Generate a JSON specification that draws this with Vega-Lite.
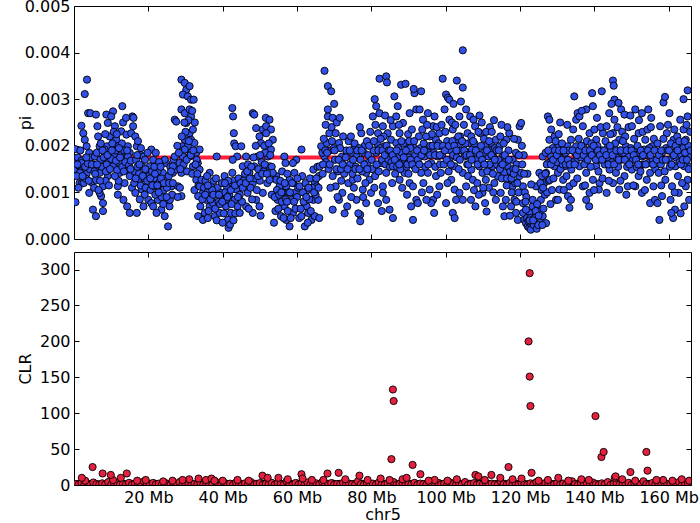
{
"$schema": "https://vega.github.io/schema/vega-lite/v6.json",
"autosize": {"type": "none"},
"padding": {"left": 74, "top": 6, "right": 9, "bottom": 517},
"spacing": 3,
"config": {
 "view": {"stroke": "#000", "strokeWidth": 1},
 "axis": {"labelFont": "DejaVu Sans", "labelFontSize": 16, "labelColor": "#000", "titleFont": "DejaVu Sans", "titleFontSize": 16, "titleFontWeight": "normal", "titleColor": "#000", "tickColor": "#000", "tickSize": -5, "tickWidth": 1, "domain": false, "grid": false, "labelPadding": 9}
},
"datasets": {
"pi": [
{"x":0.3,"p":0.00193},{"x":0.5,"p":0.00163},{"x":0.8,"p":0.00142},{"x":0.4,"p":0.00079},{"x":1.5,"p":0.0012},{"x":0.2,"p":0.0015},{"x":1.0,"p":0.00175},{"x":1.2,"p":0.00158},{"x":1.8,"p":0.00145},{"x":2.0,"p":0.00168},{"x":2.2,"p":0.0012},{"x":2.5,"p":0.00142},
{"x":3.5,"p":0.00342},{"x":2.9,"p":0.00311},{"x":3.8,"p":0.0027},{"x":4.4,"p":0.0027},{"x":2.0,"p":0.00243},{"x":2.5,"p":0.00227},{"x":2.9,"p":0.00213},{"x":3.4,"p":0.00199},{"x":4.1,"p":0.00185},{"x":2.0,"p":0.00163},{"x":1.6,"p":0.00142},{"x":3.4,"p":0.0014},{"x":4.2,"p":0.0015},{"x":2.6,"p":0.0012},{"x":4.7,"p":0.00122},{"x":4.1,"p":0.00099},{"x":5.1,"p":0.00063},{"x":3.0,"p":0.00155},{"x":3.7,"p":0.00162},{"x":4.5,"p":0.00175},{"x":3.1,"p":0.0013},{"x":1.2,"p":0.0011},{"x":0.7,"p":0.00135},
{"x":5.9,"p":0.00267},{"x":6.3,"p":0.00242},{"x":6.5,"p":0.0022},{"x":6.9,"p":0.00199},{"x":5.6,"p":0.00177},{"x":6.5,"p":0.00156},{"x":5.9,"p":0.00127},{"x":6.9,"p":0.00142},{"x":7.8,"p":0.00113},{"x":7.3,"p":0.00092},{"x":7.8,"p":0.00077},{"x":7.8,"p":0.0006},{"x":5.9,"p":0.00049},{"x":6.9,"p":0.00099},{"x":8.7,"p":0.00267},{"x":9.1,"p":0.00249},{"x":9.6,"p":0.0022},{"x":8.9,"p":0.00199},{"x":8.2,"p":0.00152},{"x":9.1,"p":0.00135},{"x":8.2,"p":0.00192},{"x":5.3,"p":0.0016},{"x":5.5,"p":0.00145},{"x":6.1,"p":0.00185},{"x":7.1,"p":0.0017},{"x":7.5,"p":0.00155},{"x":8.0,"p":0.00175},{"x":8.5,"p":0.00125},{"x":9.3,"p":0.00165},{"x":9.8,"p":0.0018},{"x":7.2,"p":0.00205},{"x":8.4,"p":0.00225},{"x":9.4,"p":0.00115},{"x":5.4,"p":0.0011},{"x":6.6,"p":0.00105},{"x":8.8,"p":0.0016},
{"x":10.5,"p":0.00274},{"x":10.0,"p":0.00263},{"x":11.0,"p":0.00242},{"x":11.4,"p":0.00213},{"x":11.8,"p":0.00199},{"x":10.9,"p":0.00177},{"x":12.3,"p":0.00163},{"x":12.7,"p":0.00231},{"x":13.0,"p":0.00285},{"x":13.2,"p":0.0025},{"x":14.1,"p":0.00224},{"x":14.5,"p":0.00199},{"x":15.0,"p":0.00185},{"x":15.4,"p":0.00227},{"x":11.8,"p":0.00095},{"x":12.3,"p":0.00142},{"x":13.6,"p":0.0012},{"x":14.1,"p":0.00149},{"x":14.5,"p":0.00177},{"x":13.3,"p":0.00084},{"x":15.0,"p":0.00135},{"x":14.3,"p":0.0007},{"x":15.0,"p":0.00056},{"x":15.7,"p":0.00263},{"x":15.9,"p":0.00242},{"x":11.8,"p":0.00113},{"x":10.5,"p":0.00156},{"x":10.0,"p":0.00172},{"x":10.3,"p":0.00205},{"x":11.2,"p":0.0019},{"x":11.6,"p":0.00148},{"x":12.0,"p":0.00125},{"x":12.6,"p":0.0018},{"x":13.0,"p":0.00155},{"x":13.5,"p":0.0019},{"x":13.8,"p":0.00165},{"x":14.8,"p":0.00158},{"x":15.3,"p":0.00168},{"x":15.6,"p":0.0011},{"x":12.9,"p":0.00205},{"x":10.7,"p":0.0023},{"x":14.0,"p":0.0026},{"x":11.3,"p":0.00168},{"x":12.1,"p":0.00195},
{"x":16.0,"p":0.0026},{"x":16.5,"p":0.0022},{"x":16.9,"p":0.00199},{"x":17.8,"p":0.00181},{"x":18.3,"p":0.00156},{"x":18.7,"p":0.00177},{"x":17.4,"p":0.00127},{"x":16.5,"p":0.00099},{"x":18.3,"p":0.00106},{"x":19.5,"p":0.00142},{"x":19.1,"p":0.0017},{"x":20.0,"p":0.00117},{"x":20.4,"p":0.00156},{"x":16.9,"p":0.00056},{"x":18.7,"p":0.0007},{"x":20.0,"p":0.00084},{"x":20.8,"p":0.00077},{"x":20.8,"p":0.00192},{"x":16.3,"p":0.00145},{"x":16.7,"p":0.0017},{"x":17.1,"p":0.00155},{"x":17.5,"p":0.0014},{"x":17.9,"p":0.00115},{"x":18.0,"p":0.00195},{"x":18.9,"p":0.0013},{"x":19.3,"p":0.0011},{"x":19.8,"p":0.00185},{"x":20.2,"p":0.00135},{"x":17.2,"p":0.0021},{"x":16.2,"p":0.0012},{"x":19.0,"p":0.00095},{"x":17.7,"p":0.00085},{"x":20.6,"p":0.00105},
{"x":21.3,"p":0.0017},{"x":22.2,"p":0.00156},{"x":23.0,"p":0.00127},{"x":21.7,"p":0.00113},{"x":23.9,"p":0.00142},{"x":24.8,"p":0.00163},{"x":22.6,"p":0.00084},{"x":23.5,"p":0.00063},{"x":24.4,"p":0.00049},{"x":25.3,"p":0.00027},{"x":25.7,"p":0.0007},{"x":26.2,"p":0.00113},{"x":26.6,"p":0.00142},{"x":22.2,"p":0.00056},{"x":21.3,"p":0.0007},{"x":24.4,"p":0.0017},{"x":25.3,"p":0.00084},{"x":25.8,"p":0.00084},{"x":21.0,"p":0.00145},{"x":21.5,"p":0.0013},{"x":21.9,"p":0.00095},{"x":22.5,"p":0.00145},{"x":22.9,"p":0.00165},{"x":23.2,"p":0.00105},{"x":23.6,"p":0.0009},{"x":23.8,"p":0.0012},{"x":24.1,"p":0.00105},{"x":24.6,"p":0.00125},{"x":25.0,"p":0.0011},{"x":25.5,"p":0.00135},{"x":25.9,"p":0.00155},{"x":26.4,"p":0.00095},{"x":22.0,"p":0.00185},{"x":24.0,"p":0.00075},{"x":26.8,"p":0.0017},{"x":21.6,"p":0.00155},{"x":23.3,"p":0.00155},
{"x":27.1,"p":0.00256},{"x":27.5,"p":0.00252},{"x":28.4,"p":0.00163},{"x":28.9,"p":0.00142},{"x":28.0,"p":0.00113},{"x":28.9,"p":0.00092},{"x":29.3,"p":0.00177},{"x":29.8,"p":0.00213},{"x":30.0,"p":0.00192},{"x":29.1,"p":0.00199},{"x":27.5,"p":0.00149},{"x":26.6,"p":0.00156},{"x":27.1,"p":0.00177},{"x":28.9,"p":0.00342},{"x":29.8,"p":0.00335},{"x":30.2,"p":0.0032},{"x":31.1,"p":0.00328},{"x":29.3,"p":0.0031},{"x":30.6,"p":0.00306},{"x":31.5,"p":0.00299},{"x":32.2,"p":0.00299},{"x":28.9,"p":0.00278},{"x":29.8,"p":0.0027},{"x":31.1,"p":0.00278},{"x":31.5,"p":0.00263},{"x":30.2,"p":0.00249},{"x":31.1,"p":0.00227},{"x":32.0,"p":0.00235},{"x":31.5,"p":0.00213},{"x":30.6,"p":0.00199},{"x":32.4,"p":0.00206},{"x":29.8,"p":0.00192},{"x":31.1,"p":0.00177},{"x":32.9,"p":0.00185},{"x":32.0,"p":0.00156},{"x":33.8,"p":0.00192},{"x":33.3,"p":0.00163},{"x":33.8,"p":0.00149},{"x":32.9,"p":0.00127},{"x":30.0,"p":0.0023},{"x":30.8,"p":0.00255},{"x":31.8,"p":0.00275},{"x":32.5,"p":0.0025},{"x":28.2,"p":0.00185},{"x":27.8,"p":0.002},{"x":29.5,"p":0.0016},{"x":30.4,"p":0.00145},{"x":31.8,"p":0.0014},{"x":33.0,"p":0.0017},{"x":27.9,"p":0.0009},{"x":28.5,"p":0.0011},{"x":32.4,"p":0.00105},{"x":33.5,"p":0.00115},
{"x":33.8,"p":0.00113},{"x":34.7,"p":0.00099},{"x":33.4,"p":0.00092},{"x":35.6,"p":0.00084},{"x":36.5,"p":0.0007},{"x":35.2,"p":0.00056},{"x":37.4,"p":0.00077},{"x":37.9,"p":0.00049},{"x":34.3,"p":0.00127},{"x":36.5,"p":0.00142},{"x":38.3,"p":0.00099},{"x":39.2,"p":0.00056},{"x":33.4,"p":0.00049},{"x":34.7,"p":0.00041},{"x":35.0,"p":0.0011},{"x":35.4,"p":0.00125},{"x":35.9,"p":0.001},{"x":36.2,"p":0.0006},{"x":36.8,"p":0.00115},{"x":37.1,"p":0.0009},{"x":37.6,"p":0.00125},{"x":38.0,"p":0.00065},{"x":38.6,"p":0.0011},{"x":38.9,"p":0.0008},{"x":34.0,"p":0.0007},{"x":35.8,"p":0.00135},{"x":37.2,"p":0.00105},{"x":36.0,"p":0.00045},{"x":38.4,"p":0.0004},{"x":38.4,"p":0.00177},
{"x":39.6,"p":0.00099},{"x":40.1,"p":0.00084},{"x":40.9,"p":0.0007},{"x":41.4,"p":0.00041},{"x":41.6,"p":0.00024},{"x":42.0,"p":0.00031},{"x":42.2,"p":0.00056},{"x":43.2,"p":0.00084},{"x":42.0,"p":0.0012},{"x":40.5,"p":0.00135},{"x":41.2,"p":0.0011},{"x":42.6,"p":0.00142},{"x":43.7,"p":0.00106},{"x":44.0,"p":0.0007},{"x":42.6,"p":0.00281},{"x":42.8,"p":0.00263},{"x":43.0,"p":0.00227},{"x":43.1,"p":0.00205},{"x":43.5,"p":0.00199},{"x":43.9,"p":0.00177},{"x":42.7,"p":0.0017},{"x":39.8,"p":0.0012},{"x":40.3,"p":0.00055},{"x":40.7,"p":0.001},{"x":41.0,"p":0.00085},{"x":41.8,"p":0.00095},{"x":42.4,"p":0.00075},{"x":43.0,"p":0.00125},{"x":43.4,"p":0.00055},{"x":44.3,"p":0.0013},{"x":44.6,"p":0.00095},{"x":39.3,"p":0.00075},{"x":41.5,"p":0.00125},{"x":40.0,"p":0.00035},{"x":42.9,"p":0.0004},
{"x":45.0,"p":0.00199},{"x":46.3,"p":0.00177},{"x":45.4,"p":0.00156},{"x":47.2,"p":0.00142},{"x":48.1,"p":0.0012},{"x":45.8,"p":0.00113},{"x":46.7,"p":0.00099},{"x":49.0,"p":0.00084},{"x":46.3,"p":0.0007},{"x":44.6,"p":0.00056},{"x":48.1,"p":0.00056},{"x":49.9,"p":0.0007},{"x":50.8,"p":0.00099},{"x":48.5,"p":0.00156},{"x":49.4,"p":0.00177},{"x":50.3,"p":0.00206},{"x":49.0,"p":0.00238},{"x":50.8,"p":0.00235},{"x":49.9,"p":0.0022},{"x":51.7,"p":0.00242},{"x":51.2,"p":0.002},{"x":48.1,"p":0.0027},{"x":48.5,"p":0.00267},{"x":51.6,"p":0.0026},{"x":52.6,"p":0.00256},{"x":53.0,"p":0.00235},{"x":51.7,"p":0.00227},{"x":53.5,"p":0.00213},{"x":53.0,"p":0.00192},{"x":52.2,"p":0.00177},{"x":54.4,"p":0.00135},{"x":52.6,"p":0.00156},{"x":45.6,"p":0.00125},{"x":46.0,"p":0.0014},{"x":46.8,"p":0.0016},{"x":47.5,"p":0.0011},{"x":47.9,"p":0.00085},{"x":48.8,"p":0.0013},{"x":49.2,"p":0.00105},{"x":49.6,"p":0.0015},{"x":50.0,"p":0.00125},{"x":50.5,"p":0.00165},{"x":51.0,"p":0.00145},{"x":51.4,"p":0.00185},{"x":52.0,"p":0.0012},{"x":52.4,"p":0.00205},{"x":53.2,"p":0.00155},{"x":47.0,"p":0.00065},{"x":50.2,"p":0.0005},{"x":45.2,"p":0.0008},
{"x":53.5,"p":0.00142},{"x":54.4,"p":0.00127},{"x":52.6,"p":0.00127},{"x":55.3,"p":0.00113},{"x":56.2,"p":0.00099},{"x":54.8,"p":0.00084},{"x":56.6,"p":0.0007},{"x":55.7,"p":0.00049},{"x":57.1,"p":0.00041},{"x":58.0,"p":0.00027},{"x":58.9,"p":0.00056},{"x":58.5,"p":0.00084},{"x":59.4,"p":0.00099},{"x":57.1,"p":0.00113},{"x":58.0,"p":0.00127},{"x":59.3,"p":0.00142},{"x":59.8,"p":0.0017},{"x":58.9,"p":0.00163},{"x":56.6,"p":0.00177},{"x":56.9,"p":0.00163},{"x":53.8,"p":0.00035},{"x":54.2,"p":0.0006},{"x":54.6,"p":0.00105},{"x":55.0,"p":0.00065},{"x":55.5,"p":0.00125},{"x":55.9,"p":0.0008},{"x":56.4,"p":0.00045},{"x":57.0,"p":0.00085},{"x":57.5,"p":0.0006},{"x":57.7,"p":0.001},{"x":58.3,"p":0.00045},{"x":59.0,"p":0.0012},{"x":59.6,"p":0.00065},{"x":60.0,"p":0.0009},{"x":60.3,"p":0.0011},{"x":60.6,"p":0.00045},{"x":53.2,"p":0.00095},{"x":56.0,"p":0.00145},{"x":57.4,"p":0.0014},
{"x":61.2,"p":0.00192},{"x":61.4,"p":0.00135},{"x":60.7,"p":0.00113},{"x":62.1,"p":0.00099},{"x":62.6,"p":0.0007},{"x":61.2,"p":0.00049},{"x":63.0,"p":0.00056},{"x":63.9,"p":0.00041},{"x":64.4,"p":0.00084},{"x":64.8,"p":0.0012},{"x":64.4,"p":0.00149},{"x":65.3,"p":0.00113},{"x":65.7,"p":0.00084},{"x":64.8,"p":0.00049},{"x":62.1,"p":0.00027},{"x":61.8,"p":0.0008},{"x":62.3,"p":0.0012},{"x":62.8,"p":0.00105},{"x":63.3,"p":0.00085},{"x":63.5,"p":0.0013},{"x":63.7,"p":0.0006},{"x":64.1,"p":0.0011},{"x":65.0,"p":0.00095},{"x":65.5,"p":0.00155},{"x":65.9,"p":0.00135},{"x":66.0,"p":0.00045},{"x":61.0,"p":0.00065},{"x":62.9,"p":0.00035},
{"x":66.5,"p":0.00199},{"x":67.4,"p":0.00177},{"x":66.1,"p":0.00156},{"x":68.0,"p":0.00206},{"x":68.7,"p":0.00227},{"x":68.3,"p":0.00263},{"x":67.4,"p":0.00361},{"x":68.3,"p":0.00328},{"x":69.2,"p":0.00317},{"x":68.3,"p":0.00278},{"x":69.6,"p":0.0026},{"x":70.4,"p":0.00227},{"x":71.3,"p":0.00206},{"x":72.1,"p":0.00177},{"x":73.0,"p":0.00156},{"x":69.6,"p":0.00135},{"x":70.4,"p":0.00113},{"x":71.3,"p":0.00084},{"x":69.6,"p":0.00063},{"x":72.2,"p":0.00099},{"x":73.5,"p":0.0007},{"x":66.8,"p":0.00185},{"x":67.2,"p":0.00215},{"x":67.8,"p":0.00165},{"x":68.9,"p":0.0019},{"x":69.3,"p":0.0024},{"x":69.9,"p":0.00195},{"x":70.2,"p":0.0017},{"x":70.7,"p":0.0025},{"x":71.0,"p":0.00145},{"x":71.6,"p":0.00195},{"x":71.9,"p":0.00125},{"x":72.4,"p":0.0022},{"x":72.7,"p":0.0014},{"x":73.3,"p":0.0019},{"x":73.8,"p":0.0012},{"x":66.9,"p":0.0014},{"x":67.7,"p":0.00245},{"x":68.5,"p":0.0015},{"x":69.0,"p":0.0011},{"x":70.9,"p":0.0009},{"x":72.8,"p":0.00055},{"x":73.9,"p":0.0021},{"x":70.0,"p":0.0029},{"x":71.5,"p":0.0026},
{"x":74.5,"p":0.0022},{"x":75.5,"p":0.002},{"x":74.8,"p":0.00185},{"x":77.0,"p":0.00038},{"x":77.0,"p":0.00052},{"x":76.0,"p":0.00084},{"x":77.7,"p":0.00106},{"x":75.0,"p":0.00127},{"x":78.6,"p":0.00142},{"x":79.0,"p":0.00163},{"x":78.2,"p":0.002},{"x":77.3,"p":0.00227},{"x":75.5,"p":0.00205},{"x":76.0,"p":0.00177},{"x":79.5,"p":0.00127},{"x":79.9,"p":0.00099},{"x":78.6,"p":0.00077},{"x":74.3,"p":0.0016},{"x":74.9,"p":0.0014},{"x":75.3,"p":0.0011},{"x":75.8,"p":0.00155},{"x":76.3,"p":0.0013},{"x":76.7,"p":0.00195},{"x":77.1,"p":0.0017},{"x":77.5,"p":0.00145},{"x":77.8,"p":0.0009},{"x":78.0,"p":0.00185},{"x":78.4,"p":0.0012},{"x":78.8,"p":0.0021},{"x":79.2,"p":0.0018},{"x":79.7,"p":0.0023},{"x":76.5,"p":0.00055},{"x":74.6,"p":0.0009},{"x":76.9,"p":0.0024},
{"x":80.9,"p":0.003},{"x":81.3,"p":0.00285},{"x":80.4,"p":0.00263},{"x":82.2,"p":0.00344},{"x":84.0,"p":0.00349},{"x":84.2,"p":0.00336},{"x":81.8,"p":0.00077},{"x":84.9,"p":0.00063},{"x":85.8,"p":0.00045},{"x":83.1,"p":0.00113},{"x":84.0,"p":0.00142},{"x":82.6,"p":0.00163},{"x":81.3,"p":0.00185},{"x":84.9,"p":0.00185},{"x":85.3,"p":0.00213},{"x":84.4,"p":0.00227},{"x":83.1,"p":0.00242},{"x":82.2,"p":0.0027},{"x":85.8,"p":0.00242},{"x":83.5,"p":0.00199},{"x":81.8,"p":0.00227},{"x":85.6,"p":0.0012},{"x":84.0,"p":0.00084},{"x":83.1,"p":0.00099},{"x":80.2,"p":0.0015},{"x":80.6,"p":0.0019},{"x":81.0,"p":0.00135},{"x":81.6,"p":0.00205},{"x":82.0,"p":0.00145},{"x":82.4,"p":0.00195},{"x":82.9,"p":0.0017},{"x":83.3,"p":0.0022},{"x":83.8,"p":0.0016},{"x":84.6,"p":0.0017},{"x":85.0,"p":0.00155},{"x":85.4,"p":0.00165},{"x":80.8,"p":0.0011},{"x":82.8,"p":0.0006},{"x":85.2,"p":0.00255},{"x":83.7,"p":0.00265},{"x":81.1,"p":0.00245},
{"x":86.2,"p":0.00306},{"x":87.1,"p":0.00285},{"x":88.0,"p":0.00331},{"x":89.2,"p":0.00333},{"x":86.7,"p":0.00263},{"x":88.5,"p":0.00249},{"x":87.6,"p":0.00227},{"x":89.4,"p":0.00206},{"x":89.8,"p":0.00185},{"x":88.0,"p":0.00163},{"x":88.9,"p":0.00142},{"x":90.3,"p":0.0012},{"x":91.2,"p":0.00113},{"x":90.7,"p":0.0007},{"x":91.2,"p":0.00041},{"x":91.6,"p":0.00313},{"x":91.4,"p":0.00322},{"x":92.1,"p":0.00278},{"x":90.3,"p":0.0027},{"x":86.7,"p":0.00206},{"x":87.1,"p":0.00177},{"x":85.8,"p":0.00156},{"x":87.6,"p":0.00127},{"x":92.1,"p":0.00084},{"x":92.5,"p":0.00077},{"x":91.6,"p":0.00156},{"x":91.2,"p":0.00199},{"x":86.4,"p":0.0014},{"x":86.9,"p":0.00155},{"x":87.3,"p":0.00195},{"x":87.8,"p":0.0015},{"x":88.2,"p":0.00185},{"x":88.6,"p":0.00205},{"x":89.0,"p":0.0017},{"x":89.5,"p":0.00155},{"x":89.9,"p":0.00225},{"x":90.1,"p":0.00175},{"x":90.5,"p":0.00195},{"x":90.9,"p":0.00235},{"x":91.8,"p":0.0018},{"x":88.3,"p":0.0011},{"x":89.6,"p":0.00095},{"x":87.4,"p":0.00245},{"x":90.0,"p":0.0014},{"x":86.0,"p":0.00185},
{"x":93.4,"p":0.00317},{"x":93.0,"p":0.00278},{"x":93.9,"p":0.00256},{"x":95.2,"p":0.0027},{"x":96.6,"p":0.00242},{"x":95.7,"p":0.0022},{"x":94.8,"p":0.00199},{"x":94.3,"p":0.00177},{"x":97.0,"p":0.00263},{"x":97.4,"p":0.00213},{"x":98.3,"p":0.00227},{"x":98.7,"p":0.00199},{"x":97.9,"p":0.00177},{"x":96.1,"p":0.00163},{"x":95.2,"p":0.00142},{"x":95.7,"p":0.00106},{"x":96.6,"p":0.00084},{"x":96.1,"p":0.00077},{"x":93.4,"p":0.00142},{"x":92.5,"p":0.0017},{"x":99.2,"p":0.00344},{"x":97.4,"p":0.00135},{"x":98.3,"p":0.00113},{"x":98.7,"p":0.00142},{"x":94.8,"p":0.00084},{"x":96.9,"p":0.00056},{"x":92.8,"p":0.0022},{"x":93.2,"p":0.00195},{"x":93.7,"p":0.00235},{"x":94.1,"p":0.00205},{"x":94.5,"p":0.00155},{"x":95.0,"p":0.00245},{"x":95.4,"p":0.00185},{"x":95.9,"p":0.002},{"x":96.3,"p":0.00225},{"x":96.8,"p":0.00185},{"x":97.2,"p":0.00155},{"x":97.6,"p":0.0024},{"x":98.1,"p":0.00205},{"x":98.5,"p":0.0016},{"x":98.9,"p":0.00245},{"x":99.0,"p":0.0018},{"x":94.0,"p":0.0012},{"x":97.7,"p":0.00095},{"x":93.6,"p":0.001},
{"x":100.1,"p":0.0031},{"x":100.6,"p":0.00303},{"x":101.0,"p":0.00299},{"x":103.0,"p":0.0034},{"x":104.6,"p":0.00325},{"x":104.6,"p":0.00405},{"x":99.7,"p":0.00278},{"x":101.0,"p":0.00256},{"x":101.9,"p":0.00235},{"x":102.8,"p":0.00213},{"x":103.7,"p":0.00263},{"x":105.5,"p":0.00278},{"x":100.1,"p":0.00192},{"x":101.0,"p":0.0017},{"x":102.4,"p":0.00156},{"x":103.3,"p":0.00199},{"x":101.5,"p":0.00127},{"x":102.4,"p":0.00106},{"x":102.8,"p":0.00084},{"x":101.9,"p":0.00056},{"x":102.4,"p":0.00045},{"x":100.1,"p":0.00077},{"x":104.6,"p":0.00142},{"x":105.1,"p":0.00177},{"x":105.9,"p":0.00227},{"x":106.4,"p":0.00206},{"x":105.5,"p":0.00113},{"x":103.7,"p":0.00099},{"x":104.6,"p":0.00084},{"x":99.5,"p":0.0016},{"x":99.9,"p":0.0023},{"x":100.4,"p":0.0021},{"x":100.8,"p":0.00145},{"x":101.3,"p":0.0019},{"x":101.7,"p":0.0025},{"x":102.0,"p":0.0018},{"x":102.6,"p":0.00245},{"x":103.0,"p":0.00175},{"x":103.5,"p":0.0015},{"x":103.9,"p":0.0022},{"x":104.2,"p":0.0019},{"x":104.9,"p":0.00245},{"x":105.3,"p":0.00205},{"x":105.8,"p":0.0016},{"x":106.2,"p":0.00185},{"x":104.1,"p":0.00295},{"x":100.5,"p":0.0012},{"x":102.1,"p":0.0029},{"x":106.0,"p":0.00135},
{"x":106.6,"p":0.00263},{"x":107.5,"p":0.00256},{"x":107.9,"p":0.00242},{"x":109.3,"p":0.00227},{"x":110.6,"p":0.00199},{"x":111.5,"p":0.00177},{"x":107.1,"p":0.00192},{"x":108.0,"p":0.0017},{"x":109.0,"p":0.00156},{"x":109.9,"p":0.00142},{"x":110.8,"p":0.00127},{"x":112.6,"p":0.00156},{"x":112.2,"p":0.00206},{"x":113.5,"p":0.00213},{"x":106.8,"p":0.00084},{"x":108.0,"p":0.0007},{"x":110.6,"p":0.00077},{"x":111.0,"p":0.00059},{"x":109.9,"p":0.00099},{"x":106.9,"p":0.00149},{"x":113.1,"p":0.0012},{"x":113.5,"p":0.00084},{"x":107.3,"p":0.00127},{"x":108.5,"p":0.0012},{"x":109.5,"p":0.002},{"x":110.2,"p":0.00185},{"x":111.9,"p":0.0024},{"x":106.9,"p":0.0022},{"x":107.7,"p":0.00205},{"x":108.3,"p":0.00185},{"x":108.8,"p":0.0023},{"x":109.7,"p":0.0025},{"x":110.3,"p":0.00215},{"x":110.9,"p":0.0023},{"x":111.2,"p":0.00145},{"x":111.8,"p":0.0016},{"x":112.0,"p":0.0019},{"x":112.4,"p":0.0023},{"x":112.9,"p":0.00175},{"x":113.3,"p":0.00195},{"x":113.8,"p":0.0016},{"x":108.9,"p":0.00095},{"x":111.6,"p":0.0011},{"x":112.8,"p":0.001},{"x":107.6,"p":0.00105},{"x":110.1,"p":0.0011},{"x":113.0,"p":0.00255},{"x":109.1,"p":0.00265},
{"x":114.5,"p":0.00199},{"x":115.4,"p":0.00177},{"x":116.7,"p":0.00156},{"x":115.8,"p":0.00142},{"x":117.1,"p":0.00127},{"x":118.0,"p":0.00113},{"x":114.8,"p":0.00099},{"x":116.2,"p":0.00084},{"x":115.4,"p":0.0007},{"x":115.8,"p":0.00049},{"x":118.5,"p":0.00084},{"x":117.6,"p":0.0007},{"x":118.9,"p":0.00056},{"x":119.4,"p":0.00041},{"x":119.9,"p":0.00242},{"x":120.3,"p":0.00249},{"x":119.4,"p":0.00213},{"x":118.9,"p":0.00185},{"x":118.0,"p":0.0017},{"x":117.1,"p":0.00227},{"x":114.9,"p":0.00156},{"x":114.0,"p":0.00135},{"x":116.3,"p":0.00213},{"x":114.2,"p":0.0017},{"x":114.7,"p":0.0022},{"x":115.1,"p":0.0013},{"x":115.6,"p":0.00205},{"x":116.0,"p":0.00165},{"x":116.4,"p":0.00115},{"x":116.9,"p":0.0019},{"x":117.4,"p":0.00145},{"x":117.8,"p":0.001},{"x":118.2,"p":0.0015},{"x":118.7,"p":0.0012},{"x":119.1,"p":0.0016},{"x":119.6,"p":0.001},{"x":119.8,"p":0.00135},{"x":117.3,"p":0.0005},{"x":116.6,"p":0.0024},{"x":118.4,"p":0.00215},{"x":119.0,"p":0.0008},{"x":115.0,"p":0.00245},
{"x":120.8,"p":0.00056},{"x":121.2,"p":0.00041},{"x":121.6,"p":0.00034},{"x":122.1,"p":0.00027},{"x":122.5,"p":0.00024},{"x":123.0,"p":0.00031},{"x":123.9,"p":0.00024},{"x":124.3,"p":0.00034},{"x":125.2,"p":0.00041},{"x":126.1,"p":0.00049},{"x":127.0,"p":0.00034},{"x":123.4,"p":0.00049},{"x":124.8,"p":0.00056},{"x":122.5,"p":0.00056},{"x":120.8,"p":0.00077},{"x":123.4,"p":0.0007},{"x":125.6,"p":0.00084},{"x":126.5,"p":0.0012},{"x":127.0,"p":0.00142},{"x":127.5,"p":0.00163},{"x":124.3,"p":0.00113},{"x":125.2,"p":0.00142},{"x":126.1,"p":0.00177},{"x":127.9,"p":0.00213},{"x":127.5,"p":0.00263},{"x":127.9,"p":0.00256},{"x":123.0,"p":0.00117},{"x":123.4,"p":0.00084},{"x":121.6,"p":0.00063},{"x":120.8,"p":0.00113},{"x":120.3,"p":0.00142},{"x":121.0,"p":0.0018},{"x":120.5,"p":0.002},{"x":121.3,"p":0.001},{"x":121.9,"p":0.00045},{"x":122.3,"p":0.00038},{"x":122.8,"p":0.00045},{"x":122.9,"p":0.0002},{"x":123.2,"p":0.0004},{"x":123.7,"p":0.0003},{"x":124.0,"p":0.00045},{"x":124.5,"p":0.00022},{"x":124.9,"p":0.0003},{"x":125.4,"p":0.0006},{"x":125.8,"p":0.00105},{"x":126.3,"p":0.00065},{"x":126.7,"p":0.00095},{"x":127.3,"p":0.001},{"x":127.7,"p":0.00125},{"x":124.6,"p":0.00075},{"x":125.9,"p":0.00135},{"x":126.9,"p":0.00185},{"x":121.7,"p":0.0009},{"x":126.0,"p":0.0003},{"x":122.0,"p":0.0014},
{"x":128.4,"p":0.00235},{"x":129.3,"p":0.0022},{"x":130.2,"p":0.00199},{"x":131.0,"p":0.00185},{"x":131.9,"p":0.00177},{"x":132.8,"p":0.00199},{"x":133.7,"p":0.00213},{"x":134.6,"p":0.00306},{"x":128.4,"p":0.00177},{"x":129.3,"p":0.00156},{"x":130.2,"p":0.00142},{"x":131.6,"p":0.00127},{"x":133.3,"p":0.00113},{"x":132.9,"p":0.00092},{"x":133.7,"p":0.00084},{"x":133.3,"p":0.00067},{"x":129.7,"p":0.00084},{"x":130.2,"p":0.00084},{"x":132.0,"p":0.00156},{"x":133.8,"p":0.00149},{"x":135.1,"p":0.0017},{"x":128.0,"p":0.00127},{"x":130.6,"p":0.00106},{"x":135.5,"p":0.0027},{"x":135.1,"p":0.00256},{"x":128.8,"p":0.00195},{"x":129.0,"p":0.0013},{"x":129.6,"p":0.0021},{"x":130.0,"p":0.00165},{"x":130.4,"p":0.00225},{"x":130.9,"p":0.0015},{"x":131.3,"p":0.00205},{"x":131.5,"p":0.0016},{"x":132.2,"p":0.00185},{"x":132.5,"p":0.00135},{"x":133.1,"p":0.0019},{"x":134.0,"p":0.00165},{"x":134.3,"p":0.00235},{"x":134.8,"p":0.00185},{"x":128.6,"p":0.00105},{"x":131.8,"p":0.00105},{"x":134.4,"p":0.0012},{"x":132.7,"p":0.00245},{"x":130.8,"p":0.0025},{"x":128.2,"p":0.00075},
{"x":136.0,"p":0.00263},{"x":137.8,"p":0.00278},{"x":139.4,"p":0.00313},{"x":139.6,"p":0.00285},{"x":142.0,"p":0.00317},{"x":136.9,"p":0.00242},{"x":138.7,"p":0.00227},{"x":140.5,"p":0.00213},{"x":135.1,"p":0.00199},{"x":135.6,"p":0.00185},{"x":137.8,"p":0.00177},{"x":139.6,"p":0.00185},{"x":141.4,"p":0.0017},{"x":136.0,"p":0.00156},{"x":137.8,"p":0.00142},{"x":139.6,"p":0.00127},{"x":136.9,"p":0.00113},{"x":141.4,"p":0.0012},{"x":138.7,"p":0.00099},{"x":137.8,"p":0.00084},{"x":138.6,"p":0.0007},{"x":141.2,"p":0.00106},{"x":140.5,"p":0.00156},{"x":142.3,"p":0.00227},{"x":135.8,"p":0.00215},{"x":136.4,"p":0.00175},{"x":137.0,"p":0.002},{"x":137.3,"p":0.0016},{"x":138.0,"p":0.0021},{"x":138.3,"p":0.0019},{"x":139.0,"p":0.00155},{"x":139.2,"p":0.00205},{"x":140.0,"p":0.00235},{"x":140.3,"p":0.00185},{"x":140.8,"p":0.002},{"x":141.1,"p":0.00145},{"x":141.7,"p":0.0024},{"x":142.0,"p":0.0019},{"x":136.6,"p":0.00275},{"x":140.7,"p":0.0026},{"x":142.2,"p":0.0013},{"x":135.4,"p":0.0013},{"x":137.5,"p":0.00115},{"x":139.9,"p":0.00105},
{"x":145.0,"p":0.0034},{"x":145.2,"p":0.00329},{"x":145.4,"p":0.00299},{"x":146.5,"p":0.00292},{"x":144.0,"p":0.0027},{"x":145.4,"p":0.00256},{"x":147.2,"p":0.00278},{"x":148.1,"p":0.00267},{"x":143.3,"p":0.00242},{"x":145.0,"p":0.00227},{"x":146.7,"p":0.00213},{"x":148.5,"p":0.00199},{"x":143.7,"p":0.00199},{"x":145.4,"p":0.00185},{"x":147.2,"p":0.0017},{"x":149.0,"p":0.00177},{"x":144.1,"p":0.00149},{"x":145.8,"p":0.00142},{"x":148.1,"p":0.00135},{"x":145.0,"p":0.0012},{"x":146.7,"p":0.00106},{"x":143.3,"p":0.00099},{"x":149.0,"p":0.00113},{"x":142.8,"p":0.0016},{"x":143.0,"p":0.0021},{"x":143.5,"p":0.00175},{"x":144.3,"p":0.00225},{"x":144.5,"p":0.0019},{"x":144.8,"p":0.00165},{"x":145.6,"p":0.00205},{"x":146.0,"p":0.00175},{"x":146.2,"p":0.0024},{"x":146.4,"p":0.00155},{"x":146.9,"p":0.0019},{"x":147.5,"p":0.0023},{"x":147.8,"p":0.00185},{"x":148.3,"p":0.0022},{"x":148.8,"p":0.00155},{"x":149.2,"p":0.0024},{"x":143.9,"p":0.00125},{"x":147.0,"p":0.00125},{"x":148.6,"p":0.00095},{"x":144.6,"p":0.0029},
{"x":151.0,"p":0.00278},{"x":152.8,"p":0.0027},{"x":154.5,"p":0.00278},{"x":150.1,"p":0.00242},{"x":151.9,"p":0.00227},{"x":153.7,"p":0.00213},{"x":155.5,"p":0.00199},{"x":151.0,"p":0.00192},{"x":152.8,"p":0.00177},{"x":154.5,"p":0.00163},{"x":150.1,"p":0.00149},{"x":151.9,"p":0.00135},{"x":154.1,"p":0.00127},{"x":155.9,"p":0.00113},{"x":151.0,"p":0.00113},{"x":152.8,"p":0.00099},{"x":155.0,"p":0.00077},{"x":156.3,"p":0.00084},{"x":155.0,"p":0.00142},{"x":153.4,"p":0.00192},{"x":149.8,"p":0.00195},{"x":150.4,"p":0.0017},{"x":150.7,"p":0.00215},{"x":151.4,"p":0.00155},{"x":151.6,"p":0.002},{"x":152.2,"p":0.00185},{"x":152.4,"p":0.00145},{"x":153.0,"p":0.0023},{"x":153.2,"p":0.0016},{"x":153.9,"p":0.0018},{"x":154.3,"p":0.00235},{"x":154.8,"p":0.00195},{"x":155.2,"p":0.0024},{"x":155.7,"p":0.0017},{"x":156.0,"p":0.00215},{"x":156.4,"p":0.0015},{"x":150.5,"p":0.00115},{"x":152.0,"p":0.00255},{"x":153.6,"p":0.00105},{"x":149.7,"p":0.00265},{"x":155.3,"p":0.0026},
{"x":158.6,"p":0.00293},{"x":160.2,"p":0.0027},{"x":157.7,"p":0.00242},{"x":159.5,"p":0.00227},{"x":161.3,"p":0.00213},{"x":163.1,"p":0.00199},{"x":158.2,"p":0.00185},{"x":160.0,"p":0.0017},{"x":161.8,"p":0.00156},{"x":157.3,"p":0.00142},{"x":159.1,"p":0.00127},{"x":160.9,"p":0.00113},{"x":162.7,"p":0.00099},{"x":157.0,"p":0.00077},{"x":157.5,"p":0.00041},{"x":158.2,"p":0.00092},{"x":160.5,"p":0.00084},{"x":161.2,"p":0.00045},{"x":161.7,"p":0.00063},{"x":160.7,"p":0.00056},{"x":163.1,"p":0.00256},{"x":164.0,"p":0.00235},{"x":164.0,"p":0.003},{"x":165.1,"p":0.00319},{"x":165.1,"p":0.00263},{"x":164.6,"p":0.00213},{"x":165.5,"p":0.00177},{"x":164.2,"p":0.00156},{"x":165.1,"p":0.00127},{"x":164.6,"p":0.00113},{"x":165.5,"p":0.00084},{"x":164.2,"p":0.0007},{"x":157.0,"p":0.00205},{"x":157.9,"p":0.0016},{"x":158.6,"p":0.00215},{"x":158.9,"p":0.00145},{"x":159.3,"p":0.00195},{"x":159.8,"p":0.00245},{"x":160.3,"p":0.00155},{"x":160.6,"p":0.00205},{"x":161.0,"p":0.00185},{"x":161.5,"p":0.00235},{"x":162.0,"p":0.00175},{"x":162.3,"p":0.0022},{"x":162.5,"p":0.00135},{"x":162.9,"p":0.00165},{"x":163.4,"p":0.0018},{"x":163.6,"p":0.0012},{"x":163.9,"p":0.00195},{"x":164.4,"p":0.00185},{"x":164.8,"p":0.00245},{"x":165.3,"p":0.002},{"x":165.8,"p":0.00155},{"x":165.8,"p":0.0023},{"x":158.0,"p":0.00115},{"x":161.6,"p":0.001},{"x":163.2,"p":0.00055},{"x":159.0,"p":0.00305},
{"x":0.9,"p":0.0016},{"x":1.7,"p":0.0019},{"x":2.3,"p":0.00135},{"x":3.3,"p":0.00175},{"x":4.0,"p":0.00125},{"x":4.8,"p":0.0016},{"x":5.7,"p":0.0014},{"x":6.2,"p":0.0016},{"x":7.0,"p":0.00125},{"x":7.7,"p":0.0019},{"x":8.6,"p":0.00145},{"x":9.0,"p":0.0018},{"x":9.7,"p":0.0015},
{"x":10.2,"p":0.0019},{"x":11.0,"p":0.00135},{"x":11.5,"p":0.00225},{"x":12.4,"p":0.00175},{"x":13.4,"p":0.00145},{"x":14.3,"p":0.0019},{"x":15.2,"p":0.0015},{"x":16.6,"p":0.0013},{"x":17.0,"p":0.0018},{"x":17.6,"p":0.0016},{"x":18.5,"p":0.00135},{"x":19.2,"p":0.0015},{"x":19.7,"p":0.00125},
{"x":20.5,"p":0.0013},{"x":21.1,"p":0.00115},{"x":21.8,"p":0.0014},{"x":22.4,"p":0.00115},{"x":22.8,"p":0.001},{"x":23.4,"p":0.0013},{"x":24.2,"p":0.0012},{"x":24.9,"p":0.0009},{"x":25.6,"p":0.0012},{"x":26.1,"p":0.00145},{"x":26.6,"p":0.0012},
{"x":28.6,"p":0.0015},{"x":29.0,"p":0.0022},{"x":29.7,"p":0.0025},{"x":30.3,"p":0.0017},{"x":30.9,"p":0.0021},{"x":31.4,"p":0.0018},{"x":32.1,"p":0.0019},{"x":32.7,"p":0.0016},{"x":33.2,"p":0.0014},
{"x":34.5,"p":0.00085},{"x":35.3,"p":0.00095},{"x":36.0,"p":0.00115},{"x":36.7,"p":0.00085},{"x":37.5,"p":0.00095},{"x":38.2,"p":0.0013},{"x":39.0,"p":0.00095},{"x":39.9,"p":0.0008},{"x":40.6,"p":0.0012},{"x":41.3,"p":0.0009},{"x":42.2,"p":0.00105},{"x":43.3,"p":0.00115},{"x":44.1,"p":0.0009},{"x":44.8,"p":0.0012},
{"x":45.4,"p":0.0011},{"x":46.2,"p":0.0012},{"x":46.6,"p":0.00145},{"x":47.3,"p":0.0013},{"x":47.7,"p":0.00155},{"x":48.3,"p":0.00175},{"x":48.9,"p":0.002},{"x":49.5,"p":0.00135},{"x":50.1,"p":0.0018},{"x":50.6,"p":0.0014},{"x":51.3,"p":0.0016},{"x":51.9,"p":0.0014},{"x":52.8,"p":0.0018},
{"x":54.0,"p":0.0009},{"x":55.2,"p":0.00095},{"x":55.8,"p":0.001},{"x":56.7,"p":0.0012},{"x":57.3,"p":0.0008},{"x":58.1,"p":0.001},{"x":58.7,"p":0.0012},{"x":59.2,"p":0.0008},{"x":60.1,"p":0.0013},{"x":61.6,"p":0.001},{"x":62.5,"p":0.0009},{"x":63.1,"p":0.0011},{"x":64.6,"p":0.001},{"x":65.2,"p":0.0013},{"x":65.8,"p":0.0011},
{"x":67.0,"p":0.0016},{"x":67.6,"p":0.0019},{"x":68.1,"p":0.00185},{"x":68.8,"p":0.0016},{"x":69.4,"p":0.0021},{"x":70.1,"p":0.0019},{"x":70.6,"p":0.0015},{"x":71.2,"p":0.0017},{"x":71.8,"p":0.0015},{"x":72.3,"p":0.0016},{"x":73.1,"p":0.00175},{"x":73.6,"p":0.0015},{"x":74.2,"p":0.0019},{"x":75.1,"p":0.0017},{"x":75.7,"p":0.0015},{"x":76.2,"p":0.0019},{"x":76.8,"p":0.0015},{"x":77.4,"p":0.0019},{"x":78.1,"p":0.0016},{"x":78.9,"p":0.0015},{"x":79.4,"p":0.002},
{"x":80.1,"p":0.0017},{"x":80.7,"p":0.0021},{"x":81.4,"p":0.0016},{"x":81.9,"p":0.0019},{"x":82.5,"p":0.00215},{"x":83.0,"p":0.0019},{"x":83.6,"p":0.0018},{"x":84.1,"p":0.002},{"x":84.7,"p":0.0019},{"x":85.1,"p":0.0019},{"x":85.7,"p":0.0018},{"x":86.3,"p":0.0017},{"x":86.8,"p":0.0019},{"x":87.5,"p":0.0016},{"x":88.1,"p":0.0021},{"x":88.7,"p":0.00175},{"x":89.3,"p":0.0019},{"x":89.7,"p":0.0016},{"x":90.2,"p":0.0021},{"x":90.6,"p":0.0017},{"x":91.0,"p":0.0016},{"x":91.5,"p":0.0021},{"x":91.9,"p":0.0015},
{"x":92.3,"p":0.0019},{"x":92.9,"p":0.0016},{"x":93.5,"p":0.0018},{"x":94.2,"p":0.0019},{"x":94.7,"p":0.0022},{"x":95.3,"p":0.0016},{"x":95.8,"p":0.0018},{"x":96.5,"p":0.002},{"x":97.1,"p":0.0018},{"x":97.8,"p":0.002},{"x":98.4,"p":0.0018},{"x":99.3,"p":0.002},{"x":99.8,"p":0.0019},{"x":100.3,"p":0.0017},{"x":100.9,"p":0.002},{"x":101.4,"p":0.0016},{"x":101.8,"p":0.0021},{"x":102.3,"p":0.002},{"x":102.9,"p":0.0019},{"x":103.4,"p":0.0022},{"x":103.8,"p":0.0017},{"x":104.4,"p":0.0021},{"x":105.0,"p":0.0019},{"x":105.6,"p":0.0018},{"x":106.1,"p":0.0016},
{"x":106.5,"p":0.0018},{"x":107.0,"p":0.0017},{"x":107.4,"p":0.0021},{"x":108.1,"p":0.0019},{"x":108.6,"p":0.0016},{"x":109.2,"p":0.0018},{"x":109.8,"p":0.0017},{"x":110.4,"p":0.0016},{"x":111.1,"p":0.0019},{"x":111.7,"p":0.0021},{"x":112.3,"p":0.0018},{"x":112.7,"p":0.0014},{"x":113.2,"p":0.0017},{"x":113.7,"p":0.0019},{"x":114.3,"p":0.0019},{"x":114.6,"p":0.0015},{"x":115.3,"p":0.0016},{"x":115.9,"p":0.0018},{"x":116.5,"p":0.0013},{"x":117.0,"p":0.0017},{"x":117.7,"p":0.0013},{"x":118.3,"p":0.0014},{"x":118.8,"p":0.0015},{"x":119.3,"p":0.0012},{"x":119.7,"p":0.0018},
{"x":120.6,"p":0.0016},{"x":121.1,"p":0.0014},{"x":121.5,"p":0.0008},{"x":122.6,"p":0.0004},{"x":123.5,"p":0.0004},{"x":124.2,"p":0.0006},{"x":125.0,"p":0.0005},{"x":125.5,"p":0.0012},{"x":126.2,"p":0.0011},{"x":126.8,"p":0.0014},{"x":127.2,"p":0.0016},{"x":127.6,"p":0.0019},
{"x":128.3,"p":0.0016},{"x":128.9,"p":0.0017},{"x":129.4,"p":0.0019},{"x":129.9,"p":0.0018},{"x":130.5,"p":0.0019},{"x":131.2,"p":0.0017},{"x":131.7,"p":0.0019},{"x":132.3,"p":0.0016},{"x":132.9,"p":0.0017},{"x":133.4,"p":0.0016},{"x":134.1,"p":0.0019},{"x":134.7,"p":0.0016},{"x":135.3,"p":0.0018},{"x":135.9,"p":0.0019},{"x":136.5,"p":0.002},{"x":137.1,"p":0.0018},{"x":137.6,"p":0.0019},{"x":138.2,"p":0.0017},{"x":138.8,"p":0.0019},{"x":139.3,"p":0.0018},{"x":139.8,"p":0.002},{"x":140.4,"p":0.0017},{"x":141.0,"p":0.0019},{"x":141.5,"p":0.0018},{"x":142.1,"p":0.0017},
{"x":142.6,"p":0.0019},{"x":143.2,"p":0.0018},{"x":143.8,"p":0.0016},{"x":144.2,"p":0.002},{"x":144.9,"p":0.0018},{"x":145.3,"p":0.0016},{"x":145.9,"p":0.0019},{"x":146.6,"p":0.0017},{"x":147.1,"p":0.0019},{"x":147.7,"p":0.0021},{"x":148.2,"p":0.0017},{"x":148.7,"p":0.0019},{"x":149.4,"p":0.0016},{"x":150.0,"p":0.0019},{"x":150.6,"p":0.0018},{"x":151.2,"p":0.0017},{"x":151.8,"p":0.0016},{"x":152.5,"p":0.0019},{"x":153.1,"p":0.0018},{"x":153.8,"p":0.0016},{"x":154.4,"p":0.0019},{"x":155.1,"p":0.0018},{"x":155.8,"p":0.0016},{"x":156.2,"p":0.0019},
{"x":156.8,"p":0.0017},{"x":157.4,"p":0.0018},{"x":158.0,"p":0.0019},{"x":158.4,"p":0.0017},{"x":159.2,"p":0.0017},{"x":159.7,"p":0.0019},{"x":160.1,"p":0.0019},{"x":160.8,"p":0.0016},{"x":161.4,"p":0.0018},{"x":161.9,"p":0.002},{"x":162.4,"p":0.0019},{"x":162.8,"p":0.0021},{"x":163.3,"p":0.0016},{"x":163.8,"p":0.0017},{"x":164.3,"p":0.0021},{"x":164.9,"p":0.0017},{"x":165.4,"p":0.0015},{"x":165.9,"p":0.0019}
],
"clr": [
{"x":0.2,"c":0.0},{"x":0.6,"c":0.6},{"x":1.0,"c":0.3},{"x":1.4,"c":1.1},{"x":1.8,"c":0.1},{"x":2.2,"c":0.8},{"x":2.6,"c":0.4},{"x":3.0,"c":0.0},{"x":3.4,"c":1.4},{"x":3.8,"c":0.2},
{"x":4.2,"c":0.0},{"x":4.6,"c":0.6},{"x":5.0,"c":0.3},{"x":5.4,"c":1.1},{"x":5.8,"c":0.1},{"x":6.2,"c":0.8},{"x":6.6,"c":0.4},{"x":7.0,"c":0.0},{"x":7.4,"c":1.4},{"x":7.8,"c":0.2},
{"x":8.2,"c":0.0},{"x":8.6,"c":0.6},{"x":9.0,"c":0.3},{"x":9.4,"c":1.1},{"x":9.8,"c":0.1},{"x":10.2,"c":0.8},{"x":10.6,"c":0.4},{"x":11.0,"c":0.0},{"x":11.4,"c":1.4},{"x":11.8,"c":0.2},
{"x":12.2,"c":0.0},{"x":12.6,"c":0.6},{"x":13.0,"c":0.3},{"x":13.4,"c":1.1},{"x":13.8,"c":0.1},{"x":14.2,"c":0.8},{"x":14.6,"c":0.4},{"x":15.0,"c":0.0},{"x":15.4,"c":1.4},{"x":15.8,"c":0.2},
{"x":16.2,"c":0.0},{"x":16.6,"c":0.6},{"x":17.0,"c":0.3},{"x":17.4,"c":1.1},{"x":17.8,"c":0.1},{"x":18.2,"c":0.8},{"x":18.6,"c":0.4},{"x":19.0,"c":0.0},{"x":19.4,"c":1.4},{"x":19.8,"c":0.2},
{"x":20.2,"c":0.0},{"x":20.6,"c":0.6},{"x":21.0,"c":0.3},{"x":21.4,"c":1.1},{"x":21.8,"c":0.1},{"x":22.2,"c":0.8},{"x":22.6,"c":0.4},{"x":23.0,"c":0.0},{"x":23.4,"c":1.4},{"x":23.8,"c":0.2},
{"x":24.2,"c":0.0},{"x":24.6,"c":0.6},{"x":25.0,"c":0.3},{"x":25.4,"c":1.1},{"x":25.8,"c":0.1},{"x":26.2,"c":0.8},{"x":26.6,"c":0.4},{"x":27.0,"c":0.0},{"x":27.4,"c":1.4},{"x":27.8,"c":0.2},
{"x":28.2,"c":0.0},{"x":28.6,"c":0.6},{"x":29.0,"c":0.3},{"x":29.4,"c":1.1},{"x":29.8,"c":0.1},{"x":30.2,"c":0.8},{"x":30.6,"c":0.4},{"x":31.0,"c":0.0},{"x":31.4,"c":1.4},{"x":31.8,"c":0.2},
{"x":32.2,"c":0.0},{"x":32.6,"c":0.6},{"x":33.0,"c":0.3},{"x":33.4,"c":1.1},{"x":33.8,"c":0.1},{"x":34.2,"c":0.8},{"x":34.6,"c":0.4},{"x":35.0,"c":0.0},{"x":35.4,"c":1.4},{"x":35.8,"c":0.2},
{"x":36.2,"c":0.0},{"x":36.6,"c":0.6},{"x":37.0,"c":0.3},{"x":37.4,"c":1.1},{"x":37.8,"c":0.1},{"x":38.2,"c":0.8},{"x":38.6,"c":0.4},{"x":39.0,"c":0.0},{"x":39.4,"c":1.4},{"x":39.8,"c":0.2},
{"x":40.2,"c":0.0},{"x":40.6,"c":0.6},{"x":41.0,"c":0.3},{"x":41.4,"c":1.1},{"x":41.8,"c":0.1},{"x":42.2,"c":0.8},{"x":42.6,"c":0.4},{"x":43.0,"c":0.0},{"x":43.4,"c":1.4},{"x":43.8,"c":0.2},
{"x":44.2,"c":0.0},{"x":44.6,"c":0.6},{"x":45.0,"c":0.3},{"x":45.4,"c":1.1},{"x":45.8,"c":0.1},{"x":46.2,"c":0.8},{"x":46.6,"c":0.4},{"x":47.0,"c":0.0},{"x":47.4,"c":1.4},{"x":47.8,"c":0.2},
{"x":48.2,"c":0.0},{"x":48.6,"c":0.6},{"x":49.0,"c":0.3},{"x":49.4,"c":1.1},{"x":49.8,"c":0.1},{"x":50.2,"c":0.8},{"x":50.6,"c":0.4},{"x":51.0,"c":0.0},{"x":51.4,"c":1.4},{"x":51.8,"c":0.2},
{"x":52.2,"c":0.0},{"x":52.6,"c":0.6},{"x":53.0,"c":0.3},{"x":53.4,"c":1.1},{"x":53.8,"c":0.1},{"x":54.2,"c":0.8},{"x":54.6,"c":0.4},{"x":55.0,"c":0.0},{"x":55.4,"c":1.4},{"x":55.8,"c":0.2},
{"x":56.2,"c":0.0},{"x":56.6,"c":0.6},{"x":57.0,"c":0.3},{"x":57.4,"c":1.1},{"x":57.8,"c":0.1},{"x":58.2,"c":0.8},{"x":58.6,"c":0.4},{"x":59.0,"c":0.0},{"x":59.4,"c":1.4},{"x":59.8,"c":0.2},
{"x":60.2,"c":0.0},{"x":60.6,"c":0.6},{"x":61.0,"c":0.3},{"x":61.4,"c":1.1},{"x":61.8,"c":0.1},{"x":62.2,"c":0.8},{"x":62.6,"c":0.4},{"x":63.0,"c":0.0},{"x":63.4,"c":1.4},{"x":63.8,"c":0.2},
{"x":64.2,"c":0.0},{"x":64.6,"c":0.6},{"x":65.0,"c":0.3},{"x":65.4,"c":1.1},{"x":65.8,"c":0.1},{"x":66.2,"c":0.8},{"x":66.6,"c":0.4},{"x":67.0,"c":0.0},{"x":67.4,"c":1.4},{"x":67.8,"c":0.2},
{"x":68.2,"c":0.0},{"x":68.6,"c":0.6},{"x":69.0,"c":0.3},{"x":69.4,"c":1.1},{"x":69.8,"c":0.1},{"x":70.2,"c":0.8},{"x":70.6,"c":0.4},{"x":71.0,"c":0.0},{"x":71.4,"c":1.4},{"x":71.8,"c":0.2},
{"x":72.2,"c":0.0},{"x":72.6,"c":0.6},{"x":73.0,"c":0.3},{"x":73.4,"c":1.1},{"x":73.8,"c":0.1},{"x":74.2,"c":0.8},{"x":74.6,"c":0.4},{"x":75.0,"c":0.0},{"x":75.4,"c":1.4},{"x":75.8,"c":0.2},
{"x":76.2,"c":0.0},{"x":76.6,"c":0.6},{"x":77.0,"c":0.3},{"x":77.4,"c":1.1},{"x":77.8,"c":0.1},{"x":78.2,"c":0.8},{"x":78.6,"c":0.4},{"x":79.0,"c":0.0},{"x":79.4,"c":1.4},{"x":79.8,"c":0.2},
{"x":80.2,"c":0.0},{"x":80.6,"c":0.6},{"x":81.0,"c":0.3},{"x":81.4,"c":1.1},{"x":81.8,"c":0.1},{"x":82.2,"c":0.8},{"x":82.6,"c":0.4},{"x":83.0,"c":0.0},{"x":83.4,"c":1.4},{"x":83.8,"c":0.2},
{"x":84.2,"c":0.0},{"x":84.6,"c":0.6},{"x":85.0,"c":0.3},{"x":85.4,"c":1.1},{"x":85.8,"c":0.1},{"x":86.2,"c":0.8},{"x":86.6,"c":0.4},{"x":87.0,"c":0.0},{"x":87.4,"c":1.4},{"x":87.8,"c":0.2},
{"x":88.2,"c":0.0},{"x":88.6,"c":0.6},{"x":89.0,"c":0.3},{"x":89.4,"c":1.1},{"x":89.8,"c":0.1},{"x":90.2,"c":0.8},{"x":90.6,"c":0.4},{"x":91.0,"c":0.0},{"x":91.4,"c":1.4},{"x":91.8,"c":0.2},
{"x":92.2,"c":0.0},{"x":92.6,"c":0.6},{"x":93.0,"c":0.3},{"x":93.4,"c":1.1},{"x":93.8,"c":0.1},{"x":94.2,"c":0.8},{"x":94.6,"c":0.4},{"x":95.0,"c":0.0},{"x":95.4,"c":1.4},{"x":95.8,"c":0.2},
{"x":96.2,"c":0.0},{"x":96.6,"c":0.6},{"x":97.0,"c":0.3},{"x":97.4,"c":1.1},{"x":97.8,"c":0.1},{"x":98.2,"c":0.8},{"x":98.6,"c":0.4},{"x":99.0,"c":0.0},{"x":99.4,"c":1.4},{"x":99.8,"c":0.2},
{"x":100.2,"c":0.0},{"x":100.6,"c":0.6},{"x":101.0,"c":0.3},{"x":101.4,"c":1.1},{"x":101.8,"c":0.1},{"x":102.2,"c":0.8},{"x":102.6,"c":0.4},{"x":103.0,"c":0.0},{"x":103.4,"c":1.4},{"x":103.8,"c":0.2},
{"x":104.2,"c":0.0},{"x":104.6,"c":0.6},{"x":105.0,"c":0.3},{"x":105.4,"c":1.1},{"x":105.8,"c":0.1},{"x":106.2,"c":0.8},{"x":106.6,"c":0.4},{"x":107.0,"c":0.0},{"x":107.4,"c":1.4},{"x":107.8,"c":0.2},
{"x":108.2,"c":0.0},{"x":108.6,"c":0.6},{"x":109.0,"c":0.3},{"x":109.4,"c":1.1},{"x":109.8,"c":0.1},{"x":110.2,"c":0.8},{"x":110.6,"c":0.4},{"x":111.0,"c":0.0},{"x":111.4,"c":1.4},{"x":111.8,"c":0.2},
{"x":112.2,"c":0.0},{"x":112.6,"c":0.6},{"x":113.0,"c":0.3},{"x":113.4,"c":1.1},{"x":113.8,"c":0.1},{"x":114.2,"c":0.8},{"x":114.6,"c":0.4},{"x":115.0,"c":0.0},{"x":115.4,"c":1.4},{"x":115.8,"c":0.2},
{"x":116.2,"c":0.0},{"x":116.6,"c":0.6},{"x":117.0,"c":0.3},{"x":117.4,"c":1.1},{"x":117.8,"c":0.1},{"x":118.2,"c":0.8},{"x":118.6,"c":0.4},{"x":119.0,"c":0.0},{"x":119.4,"c":1.4},{"x":119.8,"c":0.2},
{"x":120.2,"c":0.0},{"x":120.6,"c":0.6},{"x":121.0,"c":0.3},{"x":121.4,"c":1.1},{"x":121.8,"c":0.1},{"x":122.2,"c":0.8},{"x":122.6,"c":0.4},{"x":123.0,"c":0.0},{"x":123.4,"c":1.4},{"x":123.8,"c":0.2},
{"x":124.2,"c":0.0},{"x":124.6,"c":0.6},{"x":125.0,"c":0.3},{"x":125.4,"c":1.1},{"x":125.8,"c":0.1},{"x":126.2,"c":0.8},{"x":126.6,"c":0.4},{"x":127.0,"c":0.0},{"x":127.4,"c":1.4},{"x":127.8,"c":0.2},
{"x":128.2,"c":0.0},{"x":128.6,"c":0.6},{"x":129.0,"c":0.3},{"x":129.4,"c":1.1},{"x":129.8,"c":0.1},{"x":130.2,"c":0.8},{"x":130.6,"c":0.4},{"x":131.0,"c":0.0},{"x":131.4,"c":1.4},{"x":131.8,"c":0.2},
{"x":132.2,"c":0.0},{"x":132.6,"c":0.6},{"x":133.0,"c":0.3},{"x":133.4,"c":1.1},{"x":133.8,"c":0.1},{"x":134.2,"c":0.8},{"x":134.6,"c":0.4},{"x":135.0,"c":0.0},{"x":135.4,"c":1.4},{"x":135.8,"c":0.2},
{"x":136.2,"c":0.0},{"x":136.6,"c":0.6},{"x":137.0,"c":0.3},{"x":137.4,"c":1.1},{"x":137.8,"c":0.1},{"x":138.2,"c":0.8},{"x":138.6,"c":0.4},{"x":139.0,"c":0.0},{"x":139.4,"c":1.4},{"x":139.8,"c":0.2},
{"x":140.2,"c":0.0},{"x":140.6,"c":0.6},{"x":141.0,"c":0.3},{"x":141.4,"c":1.1},{"x":141.8,"c":0.1},{"x":142.2,"c":0.8},{"x":142.6,"c":0.4},{"x":143.0,"c":0.0},{"x":143.4,"c":1.4},{"x":143.8,"c":0.2},
{"x":144.2,"c":0.0},{"x":144.6,"c":0.6},{"x":145.0,"c":0.3},{"x":145.4,"c":1.1},{"x":145.8,"c":0.1},{"x":146.2,"c":0.8},{"x":146.6,"c":0.4},{"x":147.0,"c":0.0},{"x":147.4,"c":1.4},{"x":147.8,"c":0.2},
{"x":148.2,"c":0.0},{"x":148.6,"c":0.6},{"x":149.0,"c":0.3},{"x":149.4,"c":1.1},{"x":149.8,"c":0.1},{"x":150.2,"c":0.8},{"x":150.6,"c":0.4},{"x":151.0,"c":0.0},{"x":151.4,"c":1.4},{"x":151.8,"c":0.2},
{"x":152.2,"c":0.0},{"x":152.6,"c":0.6},{"x":153.0,"c":0.3},{"x":153.4,"c":1.1},{"x":153.8,"c":0.1},{"x":154.2,"c":0.8},{"x":154.6,"c":0.4},{"x":155.0,"c":0.0},{"x":155.4,"c":1.4},{"x":155.8,"c":0.2},
{"x":156.2,"c":0.0},{"x":156.6,"c":0.6},{"x":157.0,"c":0.3},{"x":157.4,"c":1.1},{"x":157.8,"c":0.1},{"x":158.2,"c":0.8},{"x":158.6,"c":0.4},{"x":159.0,"c":0.0},{"x":159.4,"c":1.4},{"x":159.8,"c":0.2},
{"x":160.2,"c":0.0},{"x":160.6,"c":0.6},{"x":161.0,"c":0.3},{"x":161.4,"c":1.1},{"x":161.8,"c":0.1},{"x":162.2,"c":0.8},{"x":162.6,"c":0.4},{"x":163.0,"c":0.0},{"x":163.4,"c":1.4},{"x":163.8,"c":0.2},
{"x":164.2,"c":0.0},{"x":164.6,"c":0.6},{"x":165.0,"c":0.3},{"x":165.4,"c":1.1},{"x":165.8,"c":0.1},
{"x":0.0,"c":0.5},{"x":0.8,"c":1.5},{"x":1.6,"c":0.1},{"x":2.4,"c":2.2},{"x":3.2,"c":0.8},{"x":4.0,"c":1.0},{"x":4.8,"c":0.3},{"x":5.6,"c":1.8},{"x":6.4,"c":0.6},{"x":7.2,"c":0.2},{"x":8.0,"c":1.3},{"x":8.8,"c":0.7},
{"x":9.6,"c":0.5},{"x":10.4,"c":1.5},{"x":11.2,"c":0.1},{"x":12.0,"c":2.2},{"x":12.8,"c":0.8},{"x":13.6,"c":1.0},{"x":14.4,"c":0.3},{"x":15.2,"c":1.8},{"x":16.0,"c":0.6},{"x":16.8,"c":0.2},{"x":17.6,"c":1.3},{"x":18.4,"c":0.7},
{"x":19.2,"c":0.5},{"x":20.0,"c":1.5},{"x":20.8,"c":0.1},{"x":21.6,"c":2.2},{"x":22.4,"c":0.8},{"x":23.2,"c":1.0},{"x":24.0,"c":0.3},{"x":24.8,"c":1.8},{"x":25.6,"c":0.6},{"x":26.4,"c":0.2},{"x":27.2,"c":1.3},{"x":28.0,"c":0.7},
{"x":28.8,"c":0.5},{"x":29.6,"c":1.5},{"x":30.4,"c":0.1},{"x":31.2,"c":2.2},{"x":32.0,"c":0.8},{"x":32.8,"c":1.0},{"x":33.6,"c":0.3},{"x":34.4,"c":1.8},{"x":35.2,"c":0.6},{"x":36.0,"c":0.2},{"x":36.8,"c":1.3},{"x":37.6,"c":0.7},
{"x":38.4,"c":0.5},{"x":39.2,"c":1.5},{"x":40.0,"c":0.1},{"x":40.8,"c":2.2},{"x":41.6,"c":0.8},{"x":42.4,"c":1.0},{"x":43.2,"c":0.3},{"x":44.0,"c":1.8},{"x":44.8,"c":0.6},{"x":45.6,"c":0.2},{"x":46.4,"c":1.3},{"x":47.2,"c":0.7},
{"x":48.0,"c":0.5},{"x":48.8,"c":1.5},{"x":49.6,"c":0.1},{"x":50.4,"c":2.2},{"x":51.2,"c":0.8},{"x":52.0,"c":1.0},{"x":52.8,"c":0.3},{"x":53.6,"c":1.8},{"x":54.4,"c":0.6},{"x":55.2,"c":0.2},{"x":56.0,"c":1.3},{"x":56.8,"c":0.7},
{"x":57.6,"c":0.5},{"x":58.4,"c":1.5},{"x":59.2,"c":0.1},{"x":60.0,"c":2.2},{"x":60.8,"c":0.8},{"x":61.6,"c":1.0},{"x":62.4,"c":0.3},{"x":63.2,"c":1.8},{"x":64.0,"c":0.6},{"x":64.8,"c":0.2},{"x":65.6,"c":1.3},{"x":66.4,"c":0.7},
{"x":67.2,"c":0.5},{"x":68.0,"c":1.5},{"x":68.8,"c":0.1},{"x":69.6,"c":2.2},{"x":70.4,"c":0.8},{"x":71.2,"c":1.0},{"x":72.0,"c":0.3},{"x":72.8,"c":1.8},{"x":73.6,"c":0.6},{"x":74.4,"c":0.2},{"x":75.2,"c":1.3},{"x":76.0,"c":0.7},
{"x":76.8,"c":0.5},{"x":77.6,"c":1.5},{"x":78.4,"c":0.1},{"x":79.2,"c":2.2},{"x":80.0,"c":0.8},{"x":80.8,"c":1.0},{"x":81.6,"c":0.3},{"x":82.4,"c":1.8},{"x":83.2,"c":0.6},{"x":84.0,"c":0.2},{"x":84.8,"c":1.3},{"x":85.6,"c":0.7},
{"x":86.4,"c":0.5},{"x":87.2,"c":1.5},{"x":88.0,"c":0.1},{"x":88.8,"c":2.2},{"x":89.6,"c":0.8},{"x":90.4,"c":1.0},{"x":91.2,"c":0.3},{"x":92.0,"c":1.8},{"x":92.8,"c":0.6},{"x":93.6,"c":0.2},{"x":94.4,"c":1.3},{"x":95.2,"c":0.7},
{"x":96.0,"c":0.5},{"x":96.8,"c":1.5},{"x":97.6,"c":0.1},{"x":98.4,"c":2.2},{"x":99.2,"c":0.8},{"x":100.0,"c":1.0},{"x":100.8,"c":0.3},{"x":101.6,"c":1.8},{"x":102.4,"c":0.6},{"x":103.2,"c":0.2},{"x":104.0,"c":1.3},{"x":104.8,"c":0.7},
{"x":105.6,"c":0.5},{"x":106.4,"c":1.5},{"x":107.2,"c":0.1},{"x":108.0,"c":2.2},{"x":108.8,"c":0.8},{"x":109.6,"c":1.0},{"x":110.4,"c":0.3},{"x":111.2,"c":1.8},{"x":112.0,"c":0.6},{"x":112.8,"c":0.2},{"x":113.6,"c":1.3},{"x":114.4,"c":0.7},
{"x":115.2,"c":0.5},{"x":116.0,"c":1.5},{"x":116.8,"c":0.1},{"x":117.6,"c":2.2},{"x":118.4,"c":0.8},{"x":119.2,"c":1.0},{"x":120.0,"c":0.3},{"x":120.8,"c":1.8},{"x":121.6,"c":0.6},{"x":122.4,"c":0.2},{"x":123.2,"c":1.3},{"x":124.0,"c":0.7},
{"x":124.8,"c":0.5},{"x":125.6,"c":1.5},{"x":126.4,"c":0.1},{"x":127.2,"c":2.2},{"x":128.0,"c":0.8},{"x":128.8,"c":1.0},{"x":129.6,"c":0.3},{"x":130.4,"c":1.8},{"x":131.2,"c":0.6},{"x":132.0,"c":0.2},{"x":132.8,"c":1.3},{"x":133.6,"c":0.7},
{"x":134.4,"c":0.5},{"x":135.2,"c":1.5},{"x":136.0,"c":0.1},{"x":136.8,"c":2.2},{"x":137.6,"c":0.8},{"x":138.4,"c":1.0},{"x":139.2,"c":0.3},{"x":140.0,"c":1.8},{"x":140.8,"c":0.6},{"x":141.6,"c":0.2},{"x":142.4,"c":1.3},{"x":143.2,"c":0.7},
{"x":144.0,"c":0.5},{"x":144.8,"c":1.5},{"x":145.6,"c":0.1},{"x":146.4,"c":2.2},{"x":147.2,"c":0.8},{"x":148.0,"c":1.0},{"x":148.8,"c":0.3},{"x":149.6,"c":1.8},{"x":150.4,"c":0.6},{"x":151.2,"c":0.2},{"x":152.0,"c":1.3},{"x":152.8,"c":0.7},
{"x":153.6,"c":0.5},{"x":154.4,"c":1.5},{"x":155.2,"c":0.1},{"x":156.0,"c":2.2},{"x":156.8,"c":0.8},{"x":157.6,"c":1.0},{"x":158.4,"c":0.3},{"x":159.2,"c":1.8},{"x":160.0,"c":0.6},{"x":160.8,"c":0.2},{"x":161.6,"c":1.3},{"x":162.4,"c":0.7},
{"x":163.2,"c":0.5},{"x":164.0,"c":1.5},{"x":164.8,"c":0.1},{"x":165.6,"c":2.2},
{"x":0.4,"c":1.2},{"x":1.2,"c":0.4},{"x":2.0,"c":2.8},{"x":2.8,"c":0.7},{"x":3.6,"c":1.9},{"x":4.4,"c":0.2},{"x":5.2,"c":3.5},{"x":6.0,"c":1.1},{"x":6.8,"c":0.5},{"x":7.6,"c":2.3},{"x":8.4,"c":0.9},{"x":9.2,"c":4.1},{"x":10.0,"c":0.3},{"x":10.8,"c":1.6},{"x":11.6,"c":2.6},{"x":12.4,"c":0.6},{"x":13.2,"c":1.4},{"x":14.0,"c":0.8},{"x":14.8,"c":3.0},{"x":15.6,"c":0.4},{"x":16.4,"c":2.0},{"x":17.2,"c":1.0},{"x":18.0,"c":0.2},{"x":18.8,"c":5.2},{"x":19.6,"c":1.2},{"x":20.4,"c":0.4},{"x":21.2,"c":2.8},{"x":22.0,"c":0.7},{"x":22.8,"c":1.9},{"x":23.6,"c":0.2},{"x":24.4,"c":3.5},{"x":25.2,"c":1.1},{"x":26.0,"c":0.5},{"x":26.8,"c":2.3},{"x":27.6,"c":0.9},{"x":28.4,"c":4.1},{"x":29.2,"c":0.3},{"x":30.0,"c":1.6},{"x":30.8,"c":2.6},{"x":31.6,"c":0.6},{"x":32.4,"c":1.4},{"x":33.2,"c":0.8},{"x":34.0,"c":3.0},{"x":34.8,"c":0.4},{"x":35.6,"c":2.0},{"x":36.4,"c":1.0},{"x":37.2,"c":0.2},{"x":38.0,"c":5.2},{"x":38.8,"c":1.2},{"x":39.6,"c":0.4},{"x":40.4,"c":2.8},{"x":41.2,"c":0.7},{"x":42.0,"c":1.9},{"x":42.8,"c":0.2},{"x":43.6,"c":3.5},{"x":44.4,"c":1.1},{"x":45.2,"c":0.5},{"x":46.0,"c":2.3},{"x":46.8,"c":0.9},{"x":47.6,"c":4.1},{"x":48.4,"c":0.3},{"x":49.2,"c":1.6},{"x":50.0,"c":2.6},{"x":50.8,"c":0.6},{"x":51.6,"c":1.4},{"x":52.4,"c":0.8},{"x":53.2,"c":3.0},{"x":54.0,"c":0.4},{"x":54.8,"c":2.0},{"x":55.6,"c":1.0},{"x":56.4,"c":0.2},{"x":57.2,"c":5.2},{"x":58.0,"c":1.2},{"x":58.8,"c":0.4},{"x":59.6,"c":2.8},{"x":60.4,"c":0.7},{"x":61.2,"c":1.9},{"x":62.0,"c":0.2},{"x":62.8,"c":3.5},{"x":63.6,"c":1.1},{"x":64.4,"c":0.5},{"x":65.2,"c":2.3},{"x":66.0,"c":0.9},{"x":66.8,"c":4.1},{"x":67.6,"c":0.3},{"x":68.4,"c":1.6},{"x":69.2,"c":2.6},{"x":70.0,"c":0.6},{"x":70.8,"c":1.4},{"x":71.6,"c":0.8},{"x":72.4,"c":3.0},{"x":73.2,"c":0.4},{"x":74.0,"c":2.0},{"x":74.8,"c":1.0},{"x":75.6,"c":0.2},{"x":76.4,"c":5.2},{"x":77.2,"c":1.2},{"x":78.0,"c":0.4},{"x":78.8,"c":2.8},{"x":79.6,"c":0.7},{"x":80.4,"c":1.9},{"x":81.2,"c":0.2},{"x":82.0,"c":3.5},{"x":82.8,"c":1.1},{"x":83.6,"c":0.5},{"x":84.4,"c":2.3},{"x":85.2,"c":0.9},{"x":86.0,"c":4.1},{"x":86.8,"c":0.3},{"x":87.6,"c":1.6},{"x":88.4,"c":2.6},{"x":89.2,"c":0.6},{"x":90.0,"c":1.4},{"x":90.8,"c":0.8},{"x":91.6,"c":3.0},{"x":92.4,"c":0.4},{"x":93.2,"c":2.0},{"x":94.0,"c":1.0},{"x":94.8,"c":0.2},{"x":95.6,"c":5.2},{"x":96.4,"c":1.2},{"x":97.2,"c":0.4},{"x":98.0,"c":2.8},{"x":98.8,"c":0.7},{"x":99.6,"c":1.9},{"x":100.4,"c":0.2},{"x":101.2,"c":3.5},{"x":102.0,"c":1.1},{"x":102.8,"c":0.5},{"x":103.6,"c":2.3},{"x":104.4,"c":0.9},{"x":105.2,"c":4.1},{"x":106.0,"c":0.3},{"x":106.8,"c":1.6},{"x":107.6,"c":2.6},{"x":108.4,"c":0.6},{"x":109.2,"c":1.4},{"x":110.0,"c":0.8},{"x":110.8,"c":3.0},{"x":111.6,"c":0.4},{"x":112.4,"c":2.0},{"x":113.2,"c":1.0},{"x":114.0,"c":0.2},{"x":114.8,"c":5.2},{"x":115.6,"c":1.2},{"x":116.4,"c":0.4},{"x":117.2,"c":2.8},{"x":118.0,"c":0.7},{"x":118.8,"c":1.9},{"x":119.6,"c":0.2},{"x":120.4,"c":3.5},{"x":121.2,"c":1.1},{"x":122.0,"c":0.5},{"x":122.8,"c":2.3},{"x":123.6,"c":0.9},{"x":124.4,"c":4.1},{"x":125.2,"c":0.3},{"x":126.0,"c":1.6},{"x":126.8,"c":2.6},{"x":127.6,"c":0.6},{"x":128.4,"c":1.4},{"x":129.2,"c":0.8},{"x":130.0,"c":3.0},{"x":130.8,"c":0.4},{"x":131.6,"c":2.0},{"x":132.4,"c":1.0},{"x":133.2,"c":0.2},{"x":134.0,"c":5.2},{"x":134.8,"c":1.2},{"x":135.6,"c":0.4},{"x":136.4,"c":2.8},{"x":137.2,"c":0.7},{"x":138.0,"c":1.9},{"x":138.8,"c":0.2},{"x":139.6,"c":3.5},{"x":140.4,"c":1.1},{"x":141.2,"c":0.5},{"x":142.0,"c":2.3},{"x":142.8,"c":0.9},{"x":143.6,"c":4.1},{"x":144.4,"c":0.3},{"x":145.2,"c":1.6},{"x":146.0,"c":2.6},{"x":146.8,"c":0.6},{"x":147.6,"c":1.4},{"x":148.4,"c":0.8},{"x":149.2,"c":3.0},{"x":150.0,"c":0.4},{"x":150.8,"c":2.0},{"x":151.6,"c":1.0},{"x":152.4,"c":0.2},{"x":153.2,"c":5.2},{"x":154.0,"c":1.2},{"x":154.8,"c":0.4},{"x":155.6,"c":2.8},{"x":156.4,"c":0.7},{"x":157.2,"c":1.9},{"x":158.0,"c":0.2},{"x":158.8,"c":3.5},{"x":159.6,"c":1.1},{"x":160.4,"c":0.5},{"x":161.2,"c":2.3},{"x":162.0,"c":0.9},{"x":162.8,"c":4.1},{"x":163.6,"c":0.3},{"x":164.4,"c":1.6},{"x":165.2,"c":2.6},
{"x":3.0,"c":6},{"x":10.5,"c":7},{"x":17.0,"c":6},{"x":24.0,"c":5},{"x":26.5,"c":6},{"x":31.0,"c":8},{"x":35.5,"c":7},{"x":40.0,"c":6},{"x":44.0,"c":7},{"x":47.0,"c":6},{"x":57.5,"c":8},{"x":64.0,"c":7},{"x":73.0,"c":8},{"x":79.0,"c":7},{"x":82.5,"c":9},{"x":97.0,"c":7},{"x":100.5,"c":6},{"x":103.0,"c":8},{"x":110.5,"c":7},{"x":118.0,"c":8},{"x":125.0,"c":6},{"x":127.5,"c":7},{"x":133.0,"c":6},{"x":136.5,"c":8},{"x":138.5,"c":7},{"x":147.5,"c":8},{"x":151.0,"c":6},{"x":158.5,"c":7},{"x":161.0,"c":6},{"x":163.5,"c":8},{"x":165.5,"c":6},
{"x":5.0,"c":25},{"x":2.1,"c":10},{"x":7.7,"c":16},{"x":9.9,"c":14},{"x":14.2,"c":16},{"x":12.6,"c":10},{"x":19.3,"c":7},{"x":29.2,"c":7},{"x":33.5,"c":9},{"x":37.0,"c":9},{"x":37.8,"c":6},{"x":50.7,"c":13},{"x":52.1,"c":10},{"x":55.0,"c":10},{"x":61.2,"c":15},{"x":61.5,"c":9},{"x":68.2,"c":16},{"x":71.2,"c":17},{"x":67.1,"c":7},{"x":76.8,"c":13},{"x":85.4,"c":36},{"x":85.8,"c":133},{"x":86.0,"c":117},{"x":91.1,"c":28},{"x":93.2,"c":15},{"x":95.4,"c":6},{"x":84.9,"c":7},{"x":88.4,"c":8},{"x":89.5,"c":10},{"x":108.0,"c":14},{"x":108.8,"c":12},{"x":112.3,"c":14},{"x":114.7,"c":10},{"x":116.9,"c":25},{"x":120.4,"c":9},{"x":122.3,"c":200},{"x":122.6,"c":295},{"x":122.6,"c":151},{"x":122.8,"c":110},{"x":123.1,"c":17},{"x":130.3,"c":10},{"x":140.3,"c":96},{"x":141.9,"c":39},{"x":142.5,"c":46},{"x":145.5,"c":10},{"x":145.7,"c":12},{"x":149.7,"c":18},{"x":154.0,"c":46},{"x":154.3,"c":20},{"x":156.7,"c":7}
]
},
"vconcat": [
 {
  "width": 617, "height": 233,
  "resolve": {"axis": {"x": "independent", "y": "independent"}},
  "layer": [
   {
    "data": {"values": [{"v": 0.00175, "a": 0, "b": 166}]},
    "mark": {"type": "rule", "color": "#ff1f3d", "strokeWidth": 4},
    "encoding": {
     "x": {"field": "a", "type": "quantitative", "scale": {"domain": [0, 166], "nice": false, "zero": false}, "axis": {"orient": "top", "values": [20, 40, 60, 80, 100, 120, 140, 160], "labels": false, "title": null}},
     "x2": {"field": "b"},
     "y": {"field": "v", "type": "quantitative", "scale": {"domain": [0, 0.005], "nice": false}, "axis": {"orient": "right", "values": [0, 0.001, 0.002, 0.003, 0.004, 0.005], "labels": false, "title": null}}
    }
   },
   {
    "data": {"name": "pi"},
    "mark": {"type": "circle", "size": 52, "color": "#3050e8", "opacity": 1, "stroke": "#000", "strokeWidth": 0.9, "clip": true},
    "encoding": {
     "x": {"field": "x", "type": "quantitative", "scale": {"domain": [0, 166], "nice": false, "zero": false}, "axis": {"orient": "bottom", "values": [20, 40, 60, 80, 100, 120, 140, 160], "labels": false, "title": null}},
     "y": {"field": "p", "type": "quantitative", "scale": {"domain": [0, 0.005], "nice": false}, "axis": {"orient": "left", "values": [0, 0.001, 0.002, 0.003, 0.004, 0.005], "format": ".3f", "title": "pi", "titleX": -41, "titleBaseline": "bottom"}}
    }
   }
  ]
 },
 {
  "width": 617, "height": 233,
  "resolve": {"axis": {"x": "independent", "y": "independent"}},
  "layer": [
   {
    "data": {"values": [{"a": 0, "c": 0}]},
    "mark": {"type": "point", "opacity": 0},
    "encoding": {
     "x": {"field": "a", "type": "quantitative", "scale": {"domain": [0, 166], "nice": false, "zero": false}, "axis": {"orient": "top", "values": [20, 40, 60, 80, 100, 120, 140, 160], "labels": false, "title": null}},
     "y": {"field": "c", "type": "quantitative", "scale": {"domain": [0, 324.5], "nice": false}, "axis": {"orient": "right", "values": [0, 50, 100, 150, 200, 250, 300], "labels": false, "title": null}}
    }
   },
   {
    "data": {"name": "clr"},
    "mark": {"type": "circle", "size": 52, "color": "#e4203f", "opacity": 1, "stroke": "#000", "strokeWidth": 0.9, "clip": true},
    "encoding": {
     "x": {"field": "x", "type": "quantitative", "title": "chr5", "scale": {"domain": [0, 166], "nice": false, "zero": false}, "axis": {"orient": "bottom", "values": [20, 40, 60, 80, 100, 120, 140, 160], "labelExpr": "datum.value + ' Mb'", "labelPadding": 9.5, "titlePadding": 1}},
     "y": {"field": "c", "type": "quantitative", "scale": {"domain": [0, 324.5], "nice": false}, "axis": {"orient": "left", "values": [0, 50, 100, 150, 200, 250, 300], "title": "CLR", "titleX": -41, "titleBaseline": "bottom"}}
    }
   }
  ]
 }
]
}
